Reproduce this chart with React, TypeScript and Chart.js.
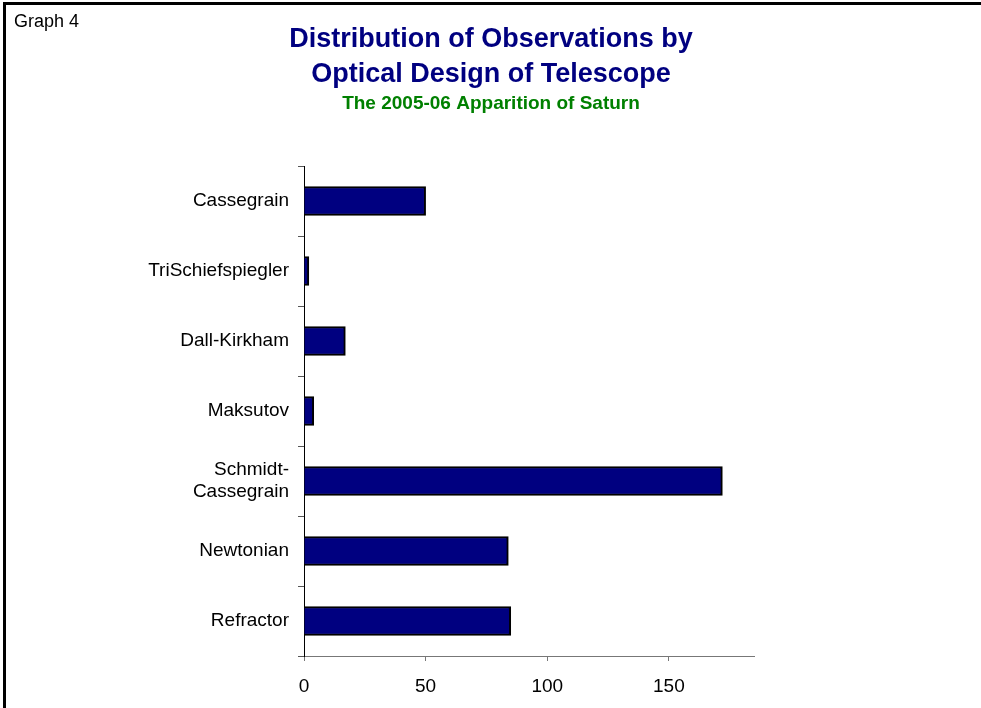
import React, { useEffect, useRef } from "react";
import { Chart, registerables } from "chart.js";

Chart.register(...registerables);

const categories: (string | string[])[] = [
  "Cassegrain",
  "TriSchiefspiegler",
  "Dall-Kirkham",
  "Maksutov",
  ["Schmidt-", "Cassegrain"],
  "Newtonian",
  "Refractor",
];
const observations: number[] = [50, 2, 17, 4, 172, 84, 85];
const xMin = 0;
const xMax = 185;
const xStep = 50;

const titleLines = ["Distribution of Observations by", "Optical Design of Telescope"];
const subtitleText = "The 2005-06 Apparition of Saturn";
const cornerText = "Graph 4";

const FONT = "'Liberation Sans', Arial, Helvetica, sans-serif";

const framePlugin = {
  id: "framePlugin",
  afterDraw(chart: any) {
    const ctx = chart.ctx;
    ctx.save();
    ctx.fillStyle = "#000";
    ctx.fillRect(3, 2, 978, 3);
    ctx.fillRect(3, 2, 3, 706);
    ctx.font = `18px ${FONT}`;
    ctx.textAlign = "left";
    ctx.textBaseline = "alphabetic";
    ctx.fillText(cornerText, 14, 27);

    ctx.textAlign = "center";
    ctx.fillStyle = "#000080";
    ctx.font = `bold 27px ${FONT}`;
    ctx.fillText(titleLines[0], 491, 47);
    ctx.fillText(titleLines[1], 491, 82);
    ctx.fillStyle = "#008000";
    ctx.font = `bold 19px ${FONT}`;
    ctx.fillText(subtitleText, 491, 109);
    ctx.restore();
  },
};

export default function App() {
  const ref = useRef<HTMLCanvasElement>(null);
  useEffect(() => {
    if (!ref.current) return;
    const chart = new Chart(ref.current, {
      type: "bar",
      data: {
        labels: categories as any,
        datasets: [
          {
            data: observations,
            backgroundColor: "#000080",
            borderColor: "#000000",
            borderWidth: 2,
            barThickness: 29,
          },
        ],
      },
      options: {
        indexAxis: "y",
        animation: false,
        responsive: false,
        layout: { padding: { left: 0, right: 227, top: 166, bottom: 0 } },
        plugins: {
          legend: { display: false },
          tooltip: { enabled: false },
          title: { display: false },
        },
        scales: {
          x: {
            type: "linear",
            min: xMin,
            max: xMax,
            afterFit(scale: any) {
              scale.height = 52;
            },
            ticks: {
              stepSize: xStep,
              includeBounds: false,
              color: "#000",
              padding: 14,
              font: { family: FONT, size: 19 },
            },
            grid: {
              display: true,
              drawOnChartArea: false,
              drawTicks: true,
              tickLength: 5,
              color: "#777",
            },
            border: { display: true, color: "#777", width: 1 },
          },
          y: {
            type: "category",
            afterFit(scale: any) {
              scale.width = 304;
            },
            ticks: {
              color: "#000",
              padding: 9,
              font: { family: FONT, size: 19, lineHeight: 1.15 },
            },
            grid: {
              display: true,
              offset: true,
              drawOnChartArea: false,
              drawTicks: true,
              tickLength: 6,
              color: "#555",
            },
            border: { display: true, color: "#000", width: 1 },
          },
        },
      },
      plugins: [framePlugin],
    } as any);
    return () => chart.destroy();
  }, []);
  return (
    <div style={{ position: "fixed", left: 0, top: 0, width: 981, height: 708, background: "#fff" }}>
      <canvas ref={ref} width={981} height={708} style={{ display: "block" }} />
    </div>
  );
}
